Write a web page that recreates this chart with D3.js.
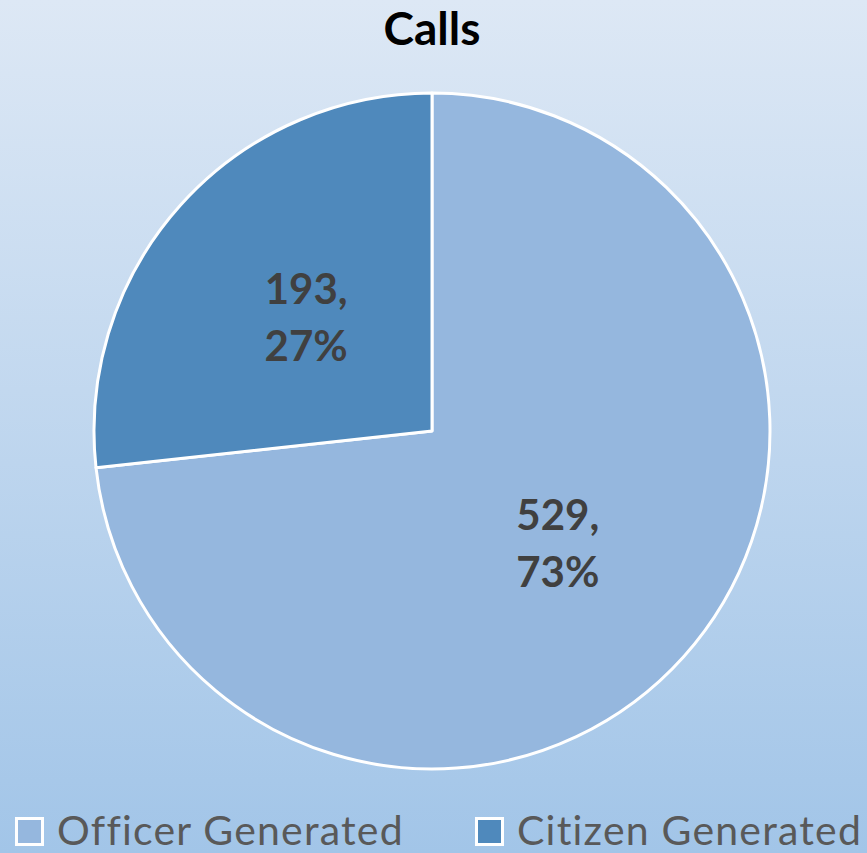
<!DOCTYPE html>
<html>
<head>
<meta charset="utf-8">
<script src="https://cdn.jsdelivr.net/npm/d3@7"></script>
<style>
  html, body { margin: 0; padding: 0; }
  svg { display: block; font-family: Lato, "Open Sans", sans-serif; }
</style>
</head>
<body>
<svg id="chart"></svg>
<script>
const title = "Calls";
const categories = ["Officer Generated", "Citizen Generated"];
const values = [529, 193];
const colors = ["#95b7de", "#4f89bc"];

const width = 867, height = 853;
const svg = d3.select("#chart").attr("width", width).attr("height", height);

const defs = svg.append("defs");
const grad = defs.append("linearGradient")
  .attr("id", "bg").attr("x1", 0).attr("y1", 0).attr("x2", 0).attr("y2", 1);
grad.append("stop").attr("offset", "0%").attr("stop-color", "#dde8f5");
grad.append("stop").attr("offset", "100%").attr("stop-color", "#a2c5e8");
svg.append("rect").attr("width", width).attr("height", height).attr("fill", "url(#bg)");

svg.append("text")
  .attr("x", 432).attr("y", 45)
  .attr("text-anchor", "middle")
  .style("font-size", "46px").style("font-weight", "bold")
  .attr("fill", "#000")
  .text(title);

const cx = 432, cy = 431, radius = 338;
const total = d3.sum(values);
const data = categories.map((c, i) => ({ name: c, value: values[i], color: colors[i] }));

const pie = d3.pie().value(d => d.value).sort(null);
const arc = d3.arc().innerRadius(0).outerRadius(radius);
const arcs = pie(data);

const g = svg.append("g").attr("transform", `translate(${cx},${cy})`);

g.selectAll("path")
  .data(arcs)
  .enter().append("path")
  .attr("d", arc)
  .attr("fill", d => d.data.color)
  .attr("stroke", "#fff")
  .attr("stroke-width", 3)
  .attr("stroke-linejoin", "round");

const labels = g.selectAll("text.lbl")
  .data(arcs)
  .enter().append("text")
  .attr("class", "lbl")
  .attr("transform", d => `translate(${arc.centroid(d)})`)
  .attr("text-anchor", "middle")
  .attr("fill", "#404040")
  .style("font-size", "42px").style("font-weight", "bold");

labels.append("tspan")
  .attr("x", 0).attr("y", -14)
  .text(d => d.data.value + ",");
labels.append("tspan")
  .attr("x", 0).attr("y", 43)
  .text(d => Math.round(d.data.value / total * 100) + "%");

// legend
const legendX = [15, 475];
const legend = svg.selectAll("g.legend")
  .data(data)
  .enter().append("g")
  .attr("class", "legend")
  .attr("transform", (d, i) => `translate(${legendX[i]},817)`);

legend.append("rect")
  .attr("x", 1.5).attr("y", 1.5)
  .attr("width", 26).attr("height", 26)
  .attr("fill", d => d.color)
  .attr("stroke", "#fff").attr("stroke-width", 3);

legend.append("text")
  .attr("x", 42).attr("y", 28)
  .attr("fill", "#595959")
  .style("font-size", "41px")
  .style("letter-spacing", "1.2px")
  .text(d => d.name);
</script>
</body>
</html>
